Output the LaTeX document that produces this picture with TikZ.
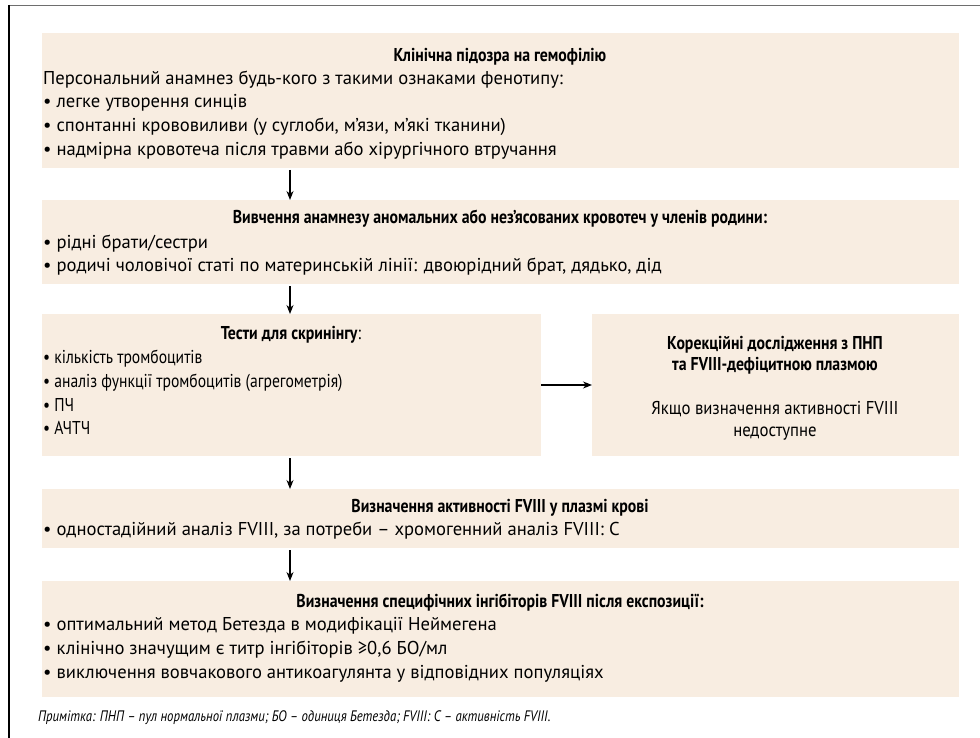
\documentclass[tikz,border=0pt]{standalone}
\usepackage{fontspec}
\setmainfont{PT Sans}
\newfontfamily\narrowfont[FakeStretch=0.84]{PT Sans}
\newfontfamily\semifont[FakeStretch=0.9]{PT Sans}
\newfontfamily\headfont[FakeStretch=0.85]{PT Sans}
\usetikzlibrary{arrows.meta}
\definecolor{boxfill}{HTML}{F8EDE1}
\definecolor{framegray}{HTML}{6E6E6E}
\begin{document}
\begin{tikzpicture}[x=1pt,y=-1pt,
  panel/.style={fill=boxfill, draw=none, inner sep=0pt, outer sep=0pt, anchor=north west},
  flow/.style={-{Stealth[length=9pt,width=7pt]}, line width=1.1pt, shorten <=2pt},
  head/.style={font=\headfont\fontsize{18.6}{22}\selectfont\bfseries, anchor=base, inner sep=0pt},
  txt/.style={font=\fontsize{18.6}{22}\selectfont, anchor=base west, inner sep=0pt},
  ntxt/.style={font=\narrowfont\fontsize{18.6}{22}\selectfont, anchor=base west, inner sep=0pt},
  ctxt/.style={font=\semifont\fontsize{18.6}{22}\selectfont, anchor=base, inner sep=0pt},
  note/.style={font=\narrowfont\fontsize{15.2}{18}\selectfont\itshape, anchor=base west, inner sep=0pt}
]
\useasboundingbox (0,0) rectangle (980,738);

% frame
\draw[framegray, line width=1.6pt] (9,5.5) -- (980,5.5);
\draw[black, line width=1.2pt] (9,5) -- (9,738);

% panels
\node[panel, minimum width=917pt, minimum height=135pt] (b1) at (42,33) {};
\node[panel, minimum width=917pt, minimum height=84pt]  (b2) at (42,200) {};
\node[panel, minimum width=499pt, minimum height=142pt] (b3) at (42,314) {};
\node[panel, minimum width=367pt, minimum height=142pt] (b4) at (592,314) {};
\node[panel, minimum width=917pt, minimum height=59pt]  (b5) at (42,489) {};
\node[panel, minimum width=917pt, minimum height=116pt] (b6) at (42,581) {};

% panel 1
\node[head] (h1) at (500,62) {Клінічна підозра на гемофілію};
\node[txt] (l1a) at (43,85)  {Персональний анамнез будь-кого з такими ознаками фенотипу:};
\node[txt] (l1b) at (43,108) {• легке утворення синців};
\node[txt] (l1c) at (43,132) {• спонтанні крововиливи (у суглоби, м’язи, м’які тканини)};
\node[txt] (l1d) at (43,156) {• надмірна кровотеча після травми або хірургічного втручання};

% panel 2
\node[head] (h2) at (500,224) {Вивчення анамнезу аномальних або нез’ясованих кровотеч у членів родини:};
\node[txt] (l2a) at (43,248) {• рідні брати/сестри};
\node[txt] (l2b) at (43,272) {• родичі чоловічої статі по материнській лінії: двоюрідний брат, дядько, дід};

% panel 3
\node[head] (h3) at (291,339) {Тести для скринінгу\textmd{:}};
\node[ntxt] (l3a) at (43,363) {• кількість тромбоцитів};
\node[ntxt] (l3b) at (43,387) {• аналіз функції тромбоцитів (агрегометрія)};
\node[ntxt] (l3c) at (43,411) {• ПЧ};
\node[ntxt] (l3d) at (43,434) {• АЧТЧ};

% panel 4 (side)
\node[head] (h4a) at (775,349) {Корекційні дослідження з ПНП};
\node[head] (h4b) at (775,370) {та FVIII-дефіцитною плазмою};
\node[ctxt] (l4a) at (775,414) {Якщо визначення активності FVIII};
\node[ctxt] (l4b) at (775,436) {недоступне};

% panel 5
\node[head] (h5) at (500,512) {Визначення активності FVIII у плазмі крові};
\node[txt] (l5a) at (43,535) {• одностадійний аналіз FVIII, за потреби – хромогенний аналіз FVIII: С};

% panel 6
\node[head] (h6) at (500,607) {Визначення специфічних інгібіторів FVIII після експозиції:};
\node[txt] (l6a) at (43,630) {• оптимальний метод Бетезда в модифікації Неймегена};
\node[txt] (l6b) at (43,654) {• клінічно значущим є титр інгібіторів ≥0,6 БО/мл};
\node[txt] (l6c) at (43,678) {• виключення вовчакового антикоагулянта у відповідних популяціях};

% footnote
\node[note] (nt) at (38,721) {Примітка: ПНП – пул нормальної плазми; БО – одиниця Бетезда; FVIII: С – активність FVIII.};

% connectors
\coordinate (ax) at (290,0);
\draw[flow] (b1.south -| ax) -- (b2.north -| ax);
\draw[flow] (b2.south -| ax) -- (b3.north -| ax);
\draw[flow] (b3.south -| ax) -- (b5.north -| ax);
\draw[flow] (b5.south -| ax) -- (b6.north -| ax);
\draw[flow, shorten <=0pt] (b3.east) -- (b4.west);
\end{tikzpicture}
\end{document}
